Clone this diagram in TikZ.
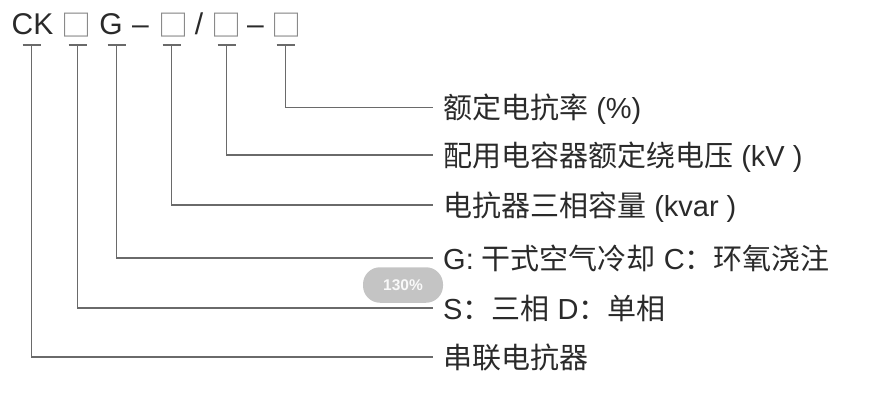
\documentclass[tikz,border=0pt]{standalone}
\usepackage{fontspec}
\setmainfont{Liberation Sans}
\newfontfamily\cjkfont{Noto Sans CJK SC}
\newcommand\cj[1]{{\cjkfont #1}}
\definecolor{txt}{HTML}{2A2A2A}
\definecolor{ln}{HTML}{6A6A6A}
\definecolor{bx}{HTML}{8A8A8A}
\definecolor{badge}{HTML}{C4C4C4}
\begin{document}
\begin{tikzpicture}[x=1pt,y=-1pt,
  hdr/.style={anchor=base,inner sep=0pt,text=txt,font=\fontsize{30}{30}\selectfont},
  hbox/.style={anchor=base,inner sep=0pt,text=bx,font=\fontsize{30}{30}\cjkfont},
  lbl/.style={anchor=base west,inner sep=0pt,text=txt,font=\fontsize{29}{29}\selectfont},
  conn/.style={draw=ln,line width=1.8pt},
  tick/.style={draw=ln,line width=1.6pt}]
\useasboundingbox (0,0) rectangle (888,408);
% header
\node[hdr] (hCK) at (32.5,34) {CK};
\node[hbox] (hB1) at (76.5,36) {□};
\node[hdr] (hG) at (111,34) {G};
\node[hdr] (hD1) at (140.5,34) {–};
\node[hbox] (hB2) at (173.5,36) {□};
\node[hdr] (hS) at (199,34) {/};
\node[hbox] (hB3) at (226.5,36) {□};
\node[hdr] (hD2) at (255.5,34) {–};
\node[hbox] (hB4) at (286.5,36) {□};
% labels
\node[lbl] (l1) at (443,118) {\cj{额定电抗率} (\%)};
\node[lbl] (l2) at (443,166) {\cj{配用电容器额定绕电压} (kV )};
\node[lbl] (l3) at (443,216) {\cj{电抗器三相容量} (kvar )};
\node[lbl] (l4) at (443,269) {G: \cj{干式空气冷却} C\cj{：环氧浇注}};
\node[lbl] (l5) at (443,319) {S\cj{：三相} D\cj{：单相}};
\node[lbl] (l6) at (443,368) {\cj{串联电抗器}};
% connector anchors
\foreach \n/\x/\y in {a/31.5/357, b/77.5/308, c/116.5/258, d/171.5/205, e/226.5/155, f/285.5/107.5}{
  \coordinate (t\n) at (\x,44.7);
  \coordinate (c\n) at (\x,\y);
  \coordinate (e\n) at (433,\y);
  \draw[tick] ([xshift=-9pt]t\n) -- ([xshift=9pt]t\n);
  \draw[conn] (t\n) -- (c\n) -- (e\n);
}
% zoom badge
\node[fill=badge,rounded corners=17pt,minimum width=80pt,minimum height=35.5pt,inner sep=0pt,
  text=white!90!badge,font=\fontsize{15.5}{15.5}\selectfont\bfseries] (badge) at (403,285) {130\%};
\end{tikzpicture}
\end{document}
